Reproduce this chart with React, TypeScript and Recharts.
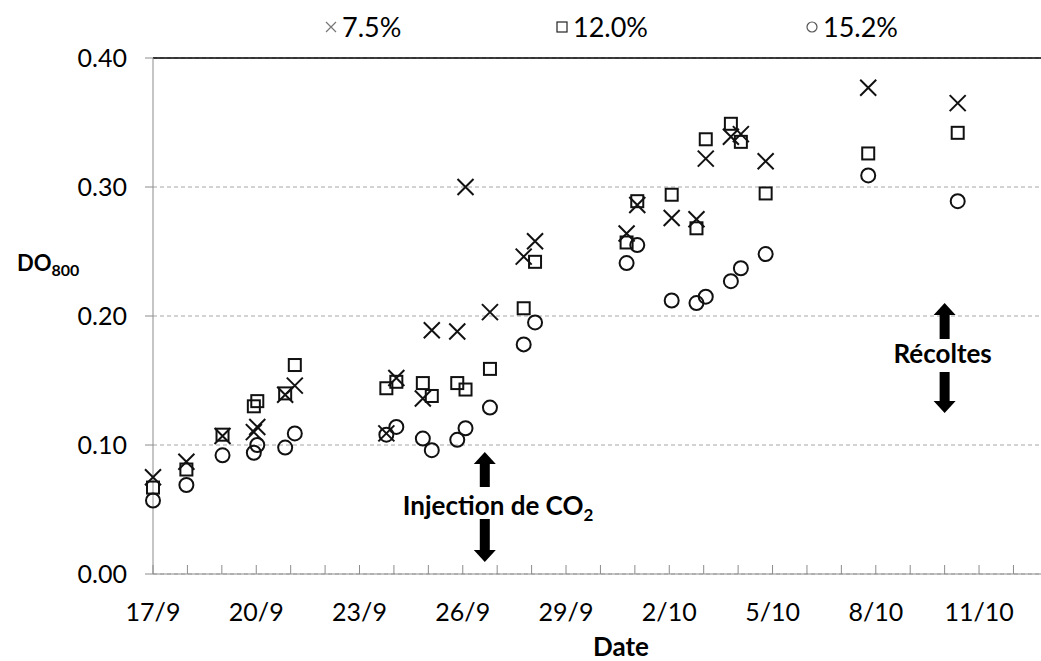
import React from "react";
import {
  ScatterChart,
  Scatter,
  XAxis,
  YAxis,
  CartesianGrid,
  ReferenceLine,
  ReferenceDot,
  Label,
} from "recharts";

// days after 17/9 (fractional = sampling time in the day)
const days = [
  0, 0.97, 2.02, 2.93, 3.03, 3.84, 4.12, 6.78, 7.07, 7.84, 8.1, 8.84, 9.08,
  9.79, 10.77, 11.1, 13.76, 14.07, 15.07, 15.79, 16.06, 16.79, 17.08, 17.8,
  20.78, 23.38,
];
const do75 = [
  0.075, 0.087, 0.107, 0.11, 0.114, 0.139, 0.146, 0.109, 0.152, 0.136, 0.189,
  0.188, 0.3, 0.203, 0.246, 0.258, 0.264, 0.286, 0.276, 0.275, 0.322, 0.339,
  0.341, 0.32, 0.377, 0.365,
];
const do120 = [
  0.067, 0.081, 0.108, 0.13, 0.134, 0.14, 0.162, 0.144, 0.149, 0.148, 0.138,
  0.148, 0.143, 0.159, 0.206, 0.242, 0.257, 0.289, 0.294, 0.268, 0.337, 0.349,
  0.335, 0.295, 0.326, 0.342,
];
const do152 = [
  0.057, 0.069, 0.092, 0.094, 0.1, 0.098, 0.109, 0.108, 0.114, 0.105, 0.096,
  0.104, 0.113, 0.129, 0.178, 0.195, 0.241, 0.255, 0.212, 0.21, 0.215, 0.227,
  0.237, 0.248, 0.309, 0.289,
];
const seriesNames = ["7.5%", "12.0%", "15.2%"];
const dateTicks = [0, 3, 6, 9, 12, 15, 18, 21, 24];
const dateLabels = ["17/9", "20/9", "23/9", "26/9", "29/9", "2/10", "5/10", "8/10", "11/10"];
const yTicks = [0, 0.1, 0.2, 0.3, 0.4];

const FONT = "Lato, 'Open Sans', sans-serif";
const AXIS = "#8c8c8c";
const INK = "#111";

const toPoints = (vals: number[]) => days.map((d, i) => ({ day: d, v: vals[i] }));
const dayTicks = Array.from({ length: 26 }, (_, i) => i);

const CrossMark = (p: any) => {
  const { cx, cy } = p;
  const s = 8;
  return (
    <path
      d={`M${cx - s},${cy - s}L${cx + s},${cy + s}M${cx - s},${cy + s}L${cx + s},${cy - s}`}
      stroke={INK}
      strokeWidth={2}
      fill="none"
    />
  );
};
const SquareMark = (p: any) => (
  <rect x={p.cx - 6} y={p.cy - 6} width={12} height={12} stroke={INK} strokeWidth={2} fill="none" />
);
const CircleMark = (p: any) => (
  <circle cx={p.cx} cy={p.cy} r={7} stroke={INK} strokeWidth={2} fill="none" />
);

const DateTick = (p: any) => {
  const { x, y, payload } = p;
  const idx = dateTicks.indexOf(payload.value);
  return (
    <g>
      <line x1={x} x2={x} y1={y} y2={y - 9} stroke={AXIS} />
      {idx >= 0 && (
        <text x={x} y={y + 47} textAnchor="middle" fontSize={25} fontFamily={FONT} fill="#000">
          {dateLabels[idx]}
        </text>
      )}
    </g>
  );
};

const arrow = (x: number, from: number, to: number) => {
  // from = base of shaft, to = tip
  const dir = to > from ? 1 : -1;
  const headStart = to - dir * 12;
  return (
    <polygon
      points={`${x - 5},${from} ${x + 5},${from} ${x + 5},${headStart} ${x + 11},${headStart} ${x},${to} ${x - 11},${headStart} ${x - 5},${headStart}`}
      fill="#000"
    />
  );
};

const Annotation = (p: any) => {
  const { cx, cy, text, sub, textDx, anchor, up, down } = p;
  return (
    <g>
      {arrow(cx, cy + up[1], cy + up[0])}
      <text
        x={cx + textDx}
        y={cy + 9}
        textAnchor={anchor}
        fontSize={26}
        fontWeight="bold"
        fontFamily={FONT}
        fill="#000"
      >
        {text}
        {sub && (
          <tspan fontSize={17} dy={6}>
            {sub}
          </tspan>
        )}
      </text>
      {arrow(cx, cy + down[0], cy + down[1])}
    </g>
  );
};

const YTitle = () => (
  <text x={17} y={271} fontSize={22} fontWeight="bold" fontFamily={FONT} fill="#000">
    DO
    <tspan fontSize={16} dy={5}>
      800
    </tspan>
  </text>
);

const legendMarks = [
  <path d="M1,1L11,11M1,11L11,1" stroke="#777" strokeWidth={1.2} fill="none" />,
  <rect x={1} y={1} width={10} height={10} stroke="#222" strokeWidth={1.2} fill="none" />,
  <circle cx={6} cy={6} r={5} stroke="#555" strokeWidth={1.2} fill="none" />,
];
const legendLeft = [325, 556, 806];

export default function App() {
  return (
    <div style={{ position: "absolute", left: 0, top: 0, width: 1041, height: 661, fontFamily: FONT, background: "#fff" }}>
      {seriesNames.map((name, i) => (
        <div
          key={name}
          style={{
            position: "absolute",
            left: legendLeft[i],
            top: 10,
            display: "flex",
            alignItems: "center",
            fontSize: 27,
            lineHeight: "34px",
            color: "#000",
          }}
        >
          <svg width={12} height={12} style={{ marginRight: 5 }}>
            {legendMarks[i]}
          </svg>
          <span>{name}</span>
        </div>
      ))}
      <ScatterChart width={1041} height={661} margin={{ top: 58, right: 0, bottom: 0, left: 0 }}>
        <CartesianGrid vertical={false} stroke="#a6a6a6" strokeDasharray="4 3" />
        <XAxis
          type="number"
          dataKey="day"
          domain={[0, 25.8]}
          ticks={dayTicks}
          interval={0}
          height={87}
          tickSize={0}
          tickMargin={0}
          tickLine={false}
          axisLine={{ stroke: AXIS }}
          tick={DateTick}
        >
          <Label
            value="Date"
            position="insideBottom"
            offset={5}
            dx={24}
            style={{ fontSize: 26, fontWeight: "bold", fontFamily: FONT, fill: "#000" }}
          />
        </XAxis>
        <YAxis
          type="number"
          dataKey="v"
          domain={[0, 0.4]}
          ticks={yTicks}
          width={153}
          tickSize={8}
          tickMargin={18}
          tickFormatter={(v: number) => v.toFixed(2)}
          axisLine={{ stroke: AXIS }}
          tickLine={{ stroke: AXIS }}
          tick={{ fontSize: 25, fontFamily: FONT, fill: "#000" }}
        >
          <Label content={YTitle} />
        </YAxis>
        <ReferenceLine y={0.4} stroke="#000" strokeWidth={1.3} />
        <Scatter name={seriesNames[2]} data={toPoints(do152)} shape={CircleMark} isAnimationActive={false} />
        <Scatter name={seriesNames[1]} data={toPoints(do120)} shape={SquareMark} isAnimationActive={false} />
        <Scatter name={seriesNames[0]} data={toPoints(do75)} shape={CrossMark} isAnimationActive={false} />
        <ReferenceDot
          x={9.64}
          y={0.0527}
          r={0}
          ifOverflow="visible"
          shape={(p: any) => (
            <Annotation {...p} text="Injection de CO" sub="2" textDx={-82} anchor="start" up={[-54, -19]} down={[13, 56]} />
          )}
        />
        <ReferenceDot
          x={23.0}
          y={0.1705}
          r={0}
          ifOverflow="visible"
          shape={(p: any) => (
            <Annotation {...p} text="Récoltes" textDx={-2} anchor="middle" up={[-51, -15]} down={[18, 59]} />
          )}
        />
      </ScatterChart>
    </div>
  );
}
